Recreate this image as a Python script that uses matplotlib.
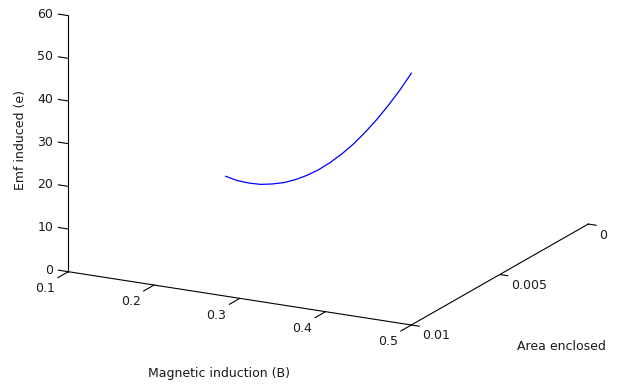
import numpy as np
import matplotlib
matplotlib.use("Agg")
import matplotlib.pyplot as plt
from mpl_toolkits.mplot3d import proj3d

# ---- data ----
B_vals = [0.1, 0.125, 0.15, 0.175, 0.2, 0.225, 0.25, 0.275, 0.3,
          0.325, 0.35, 0.375, 0.4, 0.425, 0.45, 0.475, 0.5]
A_vals = [0.0011, 0.00166, 0.00221, 0.00277, 0.00333, 0.00388, 0.00444,
          0.00499, 0.00555, 0.00611, 0.00666, 0.00722, 0.00778, 0.00833,
          0.00889, 0.00944, 0.01]
E_vals = [1.3, 2.4, 3.9, 5.7, 7.9, 10.3, 13.1, 16.2, 19.6, 23.4, 27.5,
          31.9, 36.7, 41.8, 47.2, 52.9, 59.0]

x_ticks = [0.1, 0.2, 0.3, 0.4, 0.5]
x_tick_labels = ["0.1", "0.2", "0.3", "0.4", "0.5"]
y_ticks = [0, 0.005, 0.01]
y_tick_labels = ["0", "0.005", "0.01"]
z_ticks = [0, 10, 20, 30, 40, 50, 60]
z_tick_labels = ["0", "10", "20", "30", "40", "50", "60"]

xlab = "Magnetic induction (B)"
ylab = "Area enclosed"
zlab = "Emf induced (e)"

plt.rcParams["font.family"] = ["DejaVu Sans"]
FS = 9
TXT = "#1a1a1a"

W, H = 624, 385
fig = plt.figure(figsize=(W / 100, H / 100), dpi=100)
fig.patch.set_facecolor("white")

side = 700
ax = fig.add_axes([(328 - side / 2) / W, (200 - side / 2) / H, side / W, side / H],
                  projection="3d", proj_type="ortho")
ax.set_axis_off()

x0, x1 = 0.1, 0.5
yn, yf = 0.01, 0.0   # near / far
z0, z1 = 0, 60

# curve
ax.plot(B_vals, A_vals, E_vals, color=(0, 0, 1), lw=0.9)

ax.set_xlim(x0, x1)
ax.set_ylim(yn, yf)
ax.set_zlim(z0, z1)
ax.view_init(elev=17.32, azim=-62.44)
aspect = (386.9, 382.5, 268.2)
ax.set_box_aspect(aspect, zoom=1.0)

# axis lines
lk = dict(color="black", lw=0.8)
ax.plot([x0, x1], [yn, yn], [z0, z0], **lk)
ax.plot([x1, x1], [yn, yf], [z0, z0], **lk)
ax.plot([x0, x0], [yn, yn], [z0, z1], **lk)

# tick marks
dA = 0.00059   # x ticks extend toward the viewer
dBy = 0.0092   # y ticks extend in +B
dBz = 0.0115   # z ticks extend in -B
for xt in x_ticks:
    ax.plot([xt, xt], [yn, yn + dA], [z0, z0], **lk)
for yt in y_ticks:
    ax.plot([x1, x1 + dBy], [yt, yt], [z0, z0], **lk)
for zt in z_ticks:
    ax.plot([x0, x0 - dBz], [yn, yn], [zt, zt], **lk)


# ---- calibrate projection onto the target pixel frame ----
def proj2d(x, y, z):
    X, Y, _ = proj3d.proj_transform(x, y, z, ax.M)
    return float(X), float(Y)


def to_px(x, y, z):
    return np.asarray(ax.transData.transform(proj2d(x, y, z)))


fig.canvas.draw()
o = to_px(x0, yn, z0)
f = to_px(x1, yn, z0)
target_len = np.hypot(343.0, 53.3)
zoom = target_len / np.hypot(*(f - o))
ax.set_box_aspect(aspect, zoom=zoom)
fig.canvas.draw()
o = to_px(x0, yn, z0)
dx = 68.3 - o[0]
dy = (H - 271.7) - o[1]
pos = ax.get_position(original=True)
ax.set_position([pos.x0 + dx / W, pos.y0 + dy / H, pos.width, pos.height])
fig.canvas.draw()

# tick labels as 2D annotations at projected positions
for xt, s in zip(x_ticks, x_tick_labels):
    ax.annotate(s, xy=proj2d(xt, yn + dA, z0), xycoords="data",
                xytext=(-13, -11), textcoords="offset pixels",
                ha="center", va="center", fontsize=FS, color=TXT,
                annotation_clip=False)
for yt, s in zip(y_ticks, y_tick_labels):
    ax.annotate(s, xy=proj2d(x1, yt, z0), xycoords="data",
                xytext=(11, -11), textcoords="offset pixels",
                ha="left", va="center", fontsize=FS, color=TXT,
                annotation_clip=False)
for zt, s in zip(z_ticks, z_tick_labels):
    ax.annotate(s, xy=proj2d(x0 - dBz, yn, zt), xycoords="data",
                xytext=(-5, 0), textcoords="offset pixels",
                ha="right", va="center", fontsize=FS, color=TXT,
                annotation_clip=False)

# axis labels
fig.text(21 / W, 1 - 140 / H, zlab, rotation=90, ha="center", va="center",
         fontsize=FS, color=TXT)
fig.text(218.5 / W, 1 - 373 / H, xlab, ha="center", va="center",
         fontsize=FS, color=TXT)
fig.text(561.5 / W, 1 - 346 / H, ylab, ha="center", va="center",
         fontsize=FS, color=TXT)

fig.savefig("out.png", dpi=100, facecolor="white")
